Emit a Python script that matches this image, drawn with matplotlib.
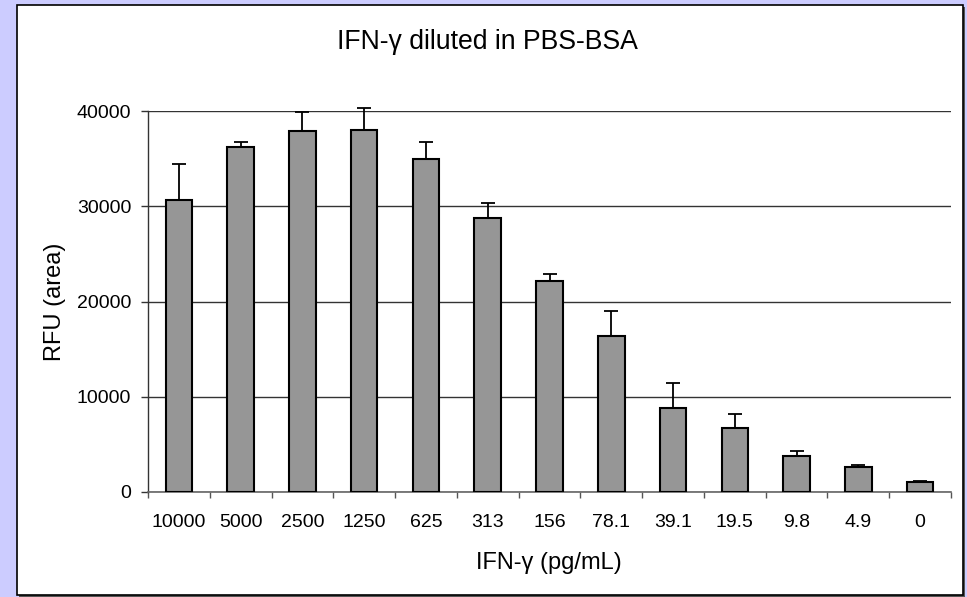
import matplotlib.pyplot as plt
from matplotlib.patches import Rectangle
import numpy as np

plt.rcParams['font.family'] = ['Liberation Sans', 'DejaVu Sans']

# DATA
concentrations = ['10000', '5000', '2500', '1250', '625', '313', '156',
                  '78.1', '39.1', '19.5', '9.8', '4.9', '0']
rfu_mean = [30700, 36250, 37900, 38050, 34950, 28750, 22100,
            16350, 8800, 6700, 3800, 2650, 1000]
rfu_err = [3750, 500, 1950, 2300, 1800, 1600, 800,
           2650, 2600, 1500, 500, 200, 200]
y_ticks = [0, 10000, 20000, 30000, 40000]

W, H = 967, 597
fig = plt.figure(figsize=(W / 100, H / 100), dpi=100)
fig.patch.set_facecolor('#CCCCFF')

# white panel with a thin shadow
fig.patches.append(Rectangle((19 / W, 1 - 597 / H), 946 / W, 590 / H,
                             transform=fig.transFigure, facecolor='#555555',
                             edgecolor='none', zorder=-2))
fig.patches.append(Rectangle((17 / W, 1 - 595 / H), 946 / W, 590 / H,
                             transform=fig.transFigure, facecolor='white',
                             edgecolor='black', linewidth=1.2, zorder=-1))

ax = fig.add_axes([148 / W, 1 - 492 / H, (951 - 148) / W, (492 - 111) / H])
ax.set_zorder(2)
ax.set_facecolor('none')

x = np.arange(len(concentrations))
ax.bar(x, rfu_mean, width=0.43, color='#969696', edgecolor='black',
       linewidth=1.5, zorder=3)
ax.errorbar(x, rfu_mean, yerr=[np.zeros(len(rfu_err)), rfu_err], fmt='none',
            ecolor='black', elinewidth=1.3, capsize=4.7, capthick=1.3,
            zorder=4, clip_on=False)

ax.set_xlim(-0.5, len(concentrations) - 0.5)
ax.set_ylim(0, 40000)
ax.set_yticks(y_ticks)
ax.set_yticklabels([str(v) for v in y_ticks], fontsize=14)
ax.yaxis.grid(True, color='#333333', linewidth=1.0, zorder=0)
ax.set_axisbelow(True)

ax.set_xticks(x)
ax.set_xticklabels(concentrations, fontsize=14)
ax.tick_params(axis='x', length=0, pad=16)
ax.set_xticks(np.arange(-0.5, len(concentrations)), minor=True)
ax.tick_params(axis='x', which='minor', length=4.5, width=1, color='#555555')
ax.tick_params(axis='y', length=5, width=1, pad=7, color='#333333')

for side in ['top', 'right']:
    ax.spines[side].set_visible(False)
ax.spines['left'].set_color('#333333')
ax.spines['bottom'].set_color('#666666')
ax.spines['left'].set_linewidth(1.0)
ax.spines['bottom'].set_linewidth(1.2)

fig.text(55 / W, 1 - 302 / H, 'RFU (area)', rotation=90, fontsize=17,
         ha='center', va='center')
fig.text(549 / W, 1 - 563 / H, 'IFN-γ (pg/mL)', fontsize=17,
         ha='center', va='center')
fig.text(487 / W, 1 - 42 / H, 'IFN-γ diluted in PBS-BSA', fontsize=19.2,
         ha='center', va='center')

fig.savefig('out.png', dpi=100, facecolor=fig.get_facecolor())
